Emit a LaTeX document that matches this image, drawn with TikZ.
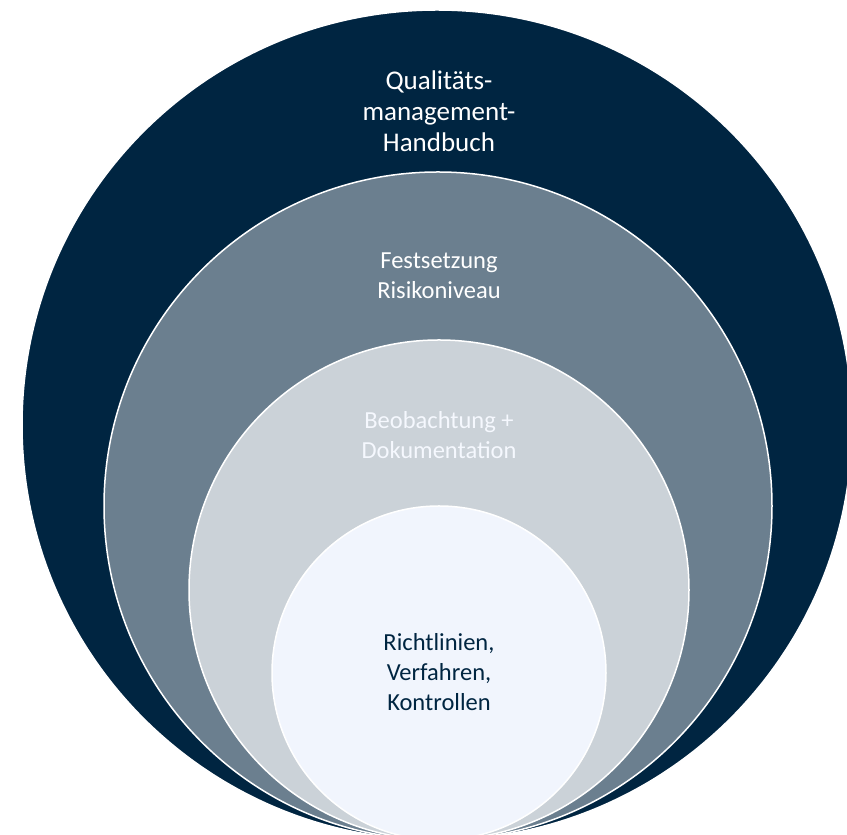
\documentclass[tikz,border=0pt]{standalone}
\usepackage{fontspec}
\setmainfont{Carlito}
\usepackage{xcolor}
\usepackage{tikz}
\usetikzlibrary{positioning}
\definecolor{qmnavy}{RGB}{0,37,65}
\definecolor{qmslate}{RGB}{107,127,143}
\definecolor{qmgrey}{RGB}{203,210,216}
\definecolor{qmpale}{RGB}{241,245,253}

\begin{document}
\begin{tikzpicture}[x=1pt, y=1pt,
                    ring/.style={draw=white, line width=1.5pt},
                    lbl/.style={align=center, font=\fontsize{24.5}{30}\selectfont},
                   ]

\useasboundingbox (0,0) rectangle (847,835);
\clip (0,0) rectangle (847,835);

\coordinate (c1) at (437,410);
\coordinate (c2) at (438,329);
\coordinate (c3) at (439,245);
\coordinate (c4) at (439,162);

\filldraw[ring, fill=qmnavy] (c1) circle (415);
\filldraw[ring, fill=qmslate] (c2) circle (334);
\filldraw[ring, fill=qmgrey] (c3) circle (250);
\filldraw[ring, fill=qmpale] (c4) circle (167);

\node[lbl, text=white, font=\fontsize{27}{31}\selectfont] (handbuch) at (439,724) {Qualitäts-\\management-\\Handbuch};
\node[lbl, text=white] (risiko) at (439,559) {Festsetzung\\Risikoniveau};
\node[lbl, text=qmpale!70!white] (doku) at (439,400) {Beobachtung +\\Dokumentation};
\node[lbl, text=qmnavy] (regeln) at (439,163) {Richtlinien,\\Verfahren,\\Kontrollen};

\end{tikzpicture}
\end{document}
